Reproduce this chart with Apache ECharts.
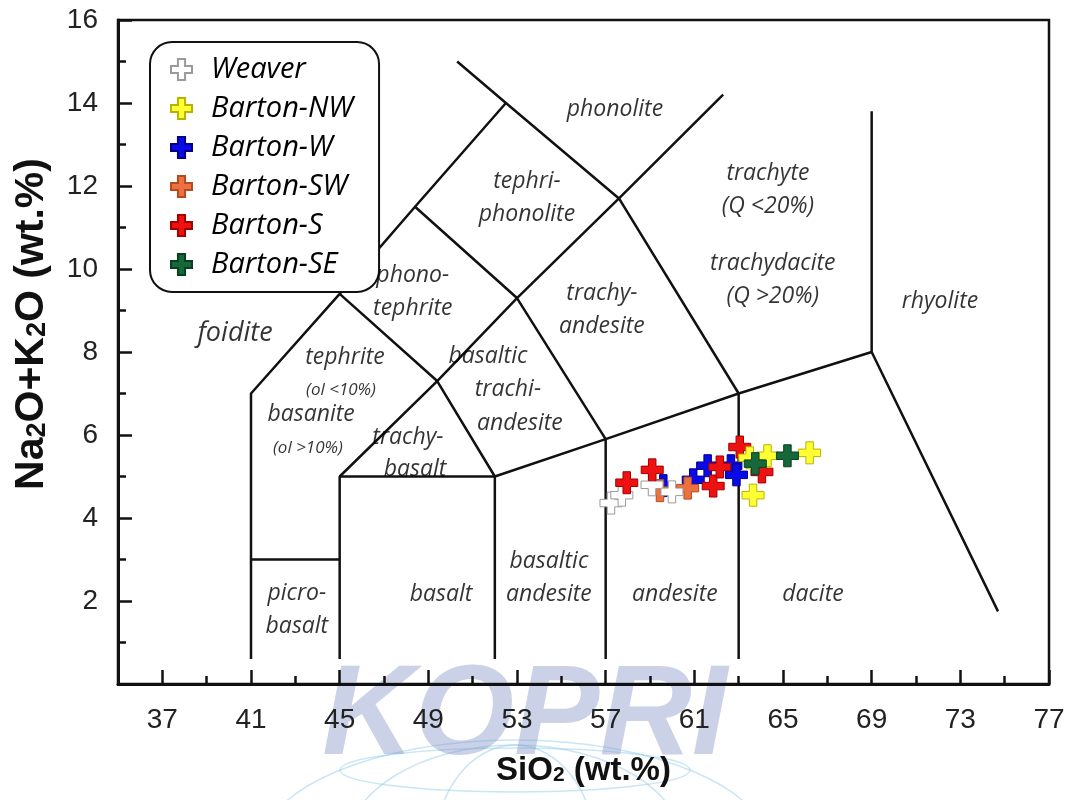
<!DOCTYPE html>
<html>
<head>
<meta charset="utf-8">
<script src="https://cdn.jsdelivr.net/npm/echarts@6/dist/echarts.min.js"></script>
<style>
  html, body { margin: 0; padding: 0; background: #fff; }
  #chart { width: 1070px; height: 800px; }
</style>
</head>
<body>
<div id="chart"></div>
<script>
// Total alkali vs. silica (TAS) classification diagram with sample groups.

// Axis ticks
const xLabelTicks = [37, 41, 45, 49, 53, 57, 61, 65, 69, 73, 77];
const xMinorTicks = [39, 43, 47, 51, 55, 59, 63, 67, 71, 75];

// Field boundaries (SiO2, Na2O+K2O)
const foiditeBoundary = [[41, 0.6], [41, 7], [45, 9.4], [48.4, 11.5], [52.5, 14]];
const phonoliteBoundary = [[50.3, 15], [52.5, 14], [57.6, 11.7], [63, 7], [63, 0.6]];
const picroTop = [[41, 3], [45, 3]];
const basaltBox = [[45, 0.6], [45, 5], [52, 5], [52, 0.6]];
const trachybasaltTop = [[45, 5], [49.4, 7.3], [52, 5]];
const subalkalineTop = [[52, 5], [57, 5.9], [63, 7], [69, 8], [74.7, 1.75]];
const andesiteLeft = [[57, 0.6], [57, 5.9], [53, 9.3], [48.4, 11.5]];
const trachyteLeft = [[45, 9.4], [49.4, 7.3], [53, 9.3], [57.6, 11.7], [62.3, 14.2]];
const rhyoliteLeft = [[69, 8], [69, 13.8]];
const boundaries = [foiditeBoundary, phonoliteBoundary, picroTop, basaltBox, trachybasaltTop,
  subalkalineTop, andesiteLeft, trachyteLeft, rhyoliteLeft];

// Field names placed at (SiO2, Na2O+K2O)
const fieldNames = [
  [57.42, 13.84, 'phonolite'],
  [53.45, 11.70, 'tephri-\nphonolite'],
  [64.32, 11.91, 'trachyte\n(Q <20%)'],
  [64.54, 9.74, 'trachydacite\n(Q >20%)'],
  [72.08, 9.21, 'rhyolite'],
  [48.30, 9.45, 'phono-\ntephrite'],
  [56.83, 9.02, 'trachy-\nandesite'],
  [45.24, 7.86, 'tephrite'],
  [43.71, 6.49, 'basanite'],
  [51.69, 7.89, 'basaltic'],
  [52.59, 7.09, 'trachi-'],
  [53.13, 6.29, 'andesite'],
  [48.08, 5.93, 'trachy-'],
  [48.40, 5.16, 'basalt'],
  [43.07, 1.78, 'picro-\nbasalt'],
  [49.57, 2.15, 'basalt'],
  [54.44, 2.56, 'basaltic\nandesite'],
  [60.12, 2.15, 'andesite'],
  [66.35, 2.15, 'dacite']
];
const noteNames = [
  [45.06, 7.09, '(ol <10%)'],
  [43.57, 5.69, '(ol >10%)']
];
const bigNames = [
  [40.28, 8.46, 'foidite']
];

// Sample groups (SiO2, Na2O+K2O)
const weaver = [[57.24, 4.36], [57.73, 4.55], [59.09, 4.80], [59.99, 4.63]];
const bartonNW = [[63.50, 5.45], [64.30, 5.50], [66.20, 5.57], [63.65, 4.55]];
const bartonW = [[59.60, 4.78], [60.95, 4.92], [61.60, 5.26], [62.65, 5.26], [62.90, 5.04]];
const bartonSW = [[59.45, 4.66], [60.70, 4.72]];
const bartonS = [[57.95, 4.85], [59.10, 5.16], [61.85, 4.77], [62.15, 5.23], [63.05, 5.71], [64.05, 5.11]];
const bartonSE = [[63.75, 5.31], [65.20, 5.50]];

const groupNames = ['Weaver', 'Barton-NW', 'Barton-W', 'Barton-SW', 'Barton-S', 'Barton-SE'];

const PLUS = 'path://M3.3,0 H6.7 V3.3 H10 V6.7 H6.7 V10 H3.3 V6.7 H0 V3.3 H3.3 Z';
const LABEL_FONT = '"Open Sans", Lato, sans-serif';
const NUM_FONT = '"Liberation Sans", Arial, sans-serif';

function sampleSeries(name, data, fill, edge) {
  return {
    name: name,
    type: 'scatter',
    xAxisIndex: 0,
    yAxisIndex: 0,
    data: data,
    symbol: PLUS,
    symbolSize: 22,
    itemStyle: { color: fill, borderColor: edge, borderWidth: 1, opacity: 1 },
    emphasis: { disabled: true },
    z: 5
  };
}

function nameSeries(list, size, lineHeight) {
  return {
    type: 'scatter',
    xAxisIndex: 0,
    yAxisIndex: 0,
    silent: true,
    symbolSize: 0,
    data: list.map(d => ({ value: [d[0], d[1]], name: d[2] })),
    label: {
      show: true,
      position: 'inside',
      formatter: '{b}',
      fontFamily: LABEL_FONT,
      fontStyle: 'italic',
      fontSize: size,
      lineHeight: lineHeight,
      color: '#000',
      align: 'center',
      verticalAlign: 'middle'
    },
    z: 4
  };
}

const lineSeries = boundaries.map(b => ({
  type: 'line',
  xAxisIndex: 0,
  yAxisIndex: 0,
  data: b,
  symbol: 'none',
  silent: true,
  lineStyle: { color: '#111', width: 2.5 },
  z: 1
}));

const chart = echarts.init(document.getElementById('chart'));

chart.setOption({
  animation: false,
  backgroundColor: '#fff',
  grid: {
    left: 118, right: 21, top: 20, bottom: 116,
    show: true, borderColor: '#111', borderWidth: 2.5, backgroundColor: 'transparent'
  },
  xAxis: [
    {
      type: 'value', min: 35, max: 77,
      name: 'SiO{s|2} (wt.%)',
      nameLocation: 'middle', nameGap: 70,
      nameTextStyle: {
        fontFamily: NUM_FONT, fontWeight: 'bold', fontSize: 33, color: '#111',
        rich: { s: { fontFamily: NUM_FONT, fontWeight: 'bold', fontSize: 21, color: '#111', padding: [10, 0, 0, 0] } }
      },
      axisLine: { show: true, onZero: false, lineStyle: { color: '#111', width: 3 } },
      axisTick: { show: true, inside: true, length: 14, customValues: xLabelTicks, lineStyle: { color: '#111', width: 2.5 } },
      axisLabel: { show: true, customValues: xLabelTicks, margin: 22, fontFamily: NUM_FONT, fontSize: 28, color: '#222' },
      splitLine: { show: false }
    },
    {
      type: 'value', min: 35, max: 77, position: 'bottom',
      axisLine: { show: false, onZero: false },
      axisTick: { show: true, inside: true, length: 8, customValues: xMinorTicks, lineStyle: { color: '#111', width: 2.5 } },
      axisLabel: { show: false },
      splitLine: { show: false }
    }
  ],
  yAxis: [{
    type: 'value', min: 0, max: 16, interval: 2,
    name: 'Na{s|2}O+K{s|2}O (wt.%)',
    nameLocation: 'middle', nameGap: 66, nameRotate: 90,
    nameTextStyle: {
      fontFamily: NUM_FONT, fontWeight: 'bold', fontSize: 41, color: '#111',
      padding: [0, 0, 0, 56],
      rich: { s: { fontFamily: NUM_FONT, fontWeight: 'bold', fontSize: 27, color: '#111', padding: [13, 0, 0, 0] } }
    },
    axisLine: { show: true, onZero: false, lineStyle: { color: '#111', width: 3 } },
    axisTick: { show: true, inside: true, length: 14, lineStyle: { color: '#111', width: 2.5 } },
    minorTick: { show: true, splitNumber: 2, length: 8, lineStyle: { color: '#111', width: 2.5 } },
    axisLabel: {
      margin: 20, fontFamily: NUM_FONT, fontSize: 28, color: '#222',
      formatter: v => (v === 0 ? '' : String(v))
    },
    splitLine: { show: false }
  }],
  legend: {
    data: groupNames,
    orient: 'vertical',
    left: 150, top: 42,
    padding: [13, 26, 13, 20],
    itemWidth: 21, itemHeight: 21, itemGap: 10,
    borderColor: '#111', borderWidth: 2, borderRadius: 22,
    backgroundColor: '#fff',
    selectedMode: false,
    textStyle: {
      fontFamily: LABEL_FONT, fontStyle: 'italic', fontSize: 29, lineHeight: 27,
      color: '#000', padding: [0, 0, 0, 14]
    },
    z: 2
  },
  graphic: [
    {
      type: 'group', silent: true, z: 10,
      children: [
        { type: 'ellipse', shape: { cx: 515, cy: 850, rx: 255, ry: 110 }, style: { fill: 'none', stroke: 'rgba(150,205,235,0.5)', lineWidth: 1.5 } },
        { type: 'ellipse', shape: { cx: 515, cy: 850, rx: 170, ry: 105 }, style: { fill: 'none', stroke: 'rgba(150,205,235,0.5)', lineWidth: 1.5 } },
        { type: 'ellipse', shape: { cx: 515, cy: 850, rx: 80, ry: 105 }, style: { fill: 'none', stroke: 'rgba(150,205,235,0.5)', lineWidth: 1.5 } },
        { type: 'ellipse', shape: { cx: 515, cy: 770, rx: 175, ry: 22 }, style: { fill: 'none', stroke: 'rgba(150,205,235,0.5)', lineWidth: 1.5 } },
        {
          type: 'text', left: 322, top: 655,
          style: {
            text: 'KOPRI', fill: 'rgba(130,148,200,0.42)',
            font: 'italic bold 128px "Liberation Sans", Arial, sans-serif'
          }
        }
      ]
    }
  ],
  series: [
    ...lineSeries,
    nameSeries(fieldNames, 23, 33),
    nameSeries(noteNames, 17, 20),
    nameSeries(bigNames, 27, 30),
    sampleSeries('Barton-W', bartonW, '#0a0ae6', '#00008a'),
    sampleSeries('Barton-SW', bartonSW, '#ec7040', '#b54a20'),
    sampleSeries('Weaver', weaver, '#ffffff', '#9a9a9a'),
    sampleSeries('Barton-S', bartonS, '#ee1111', '#a00000'),
    sampleSeries('Barton-NW', bartonNW, '#ffff33', '#b5b500'),
    sampleSeries('Barton-SE', bartonSE, '#16673a', '#0a4020')
  ]
});
</script>
</body>
</html>
